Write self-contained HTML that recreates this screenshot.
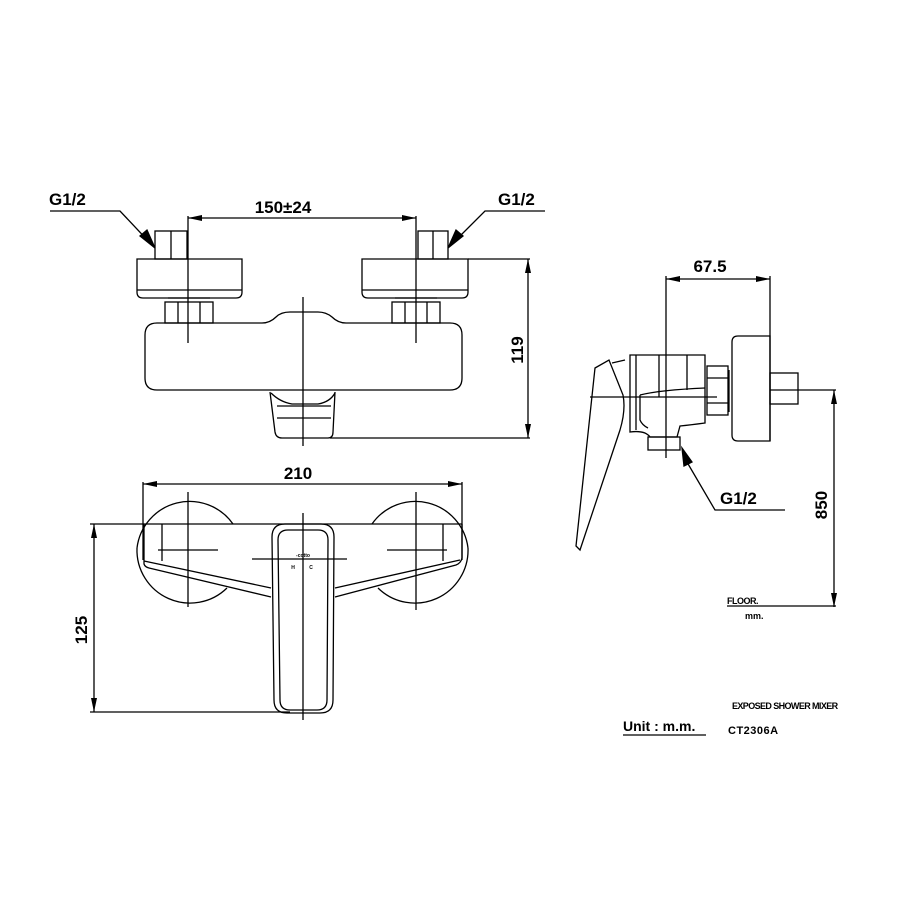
<!DOCTYPE html>
<html><head><meta charset="utf-8"><style>
html,body{margin:0;padding:0;background:#fff;}
svg{display:block;}
text{font-family:"Liberation Sans",sans-serif;font-weight:bold;fill:#000;}
</style></head><body>
<svg width="900" height="900" viewBox="0 0 900 900" xmlns="http://www.w3.org/2000/svg">
<defs>
<marker id="a" viewBox="0 0 10 10" refX="10" refY="5" markerWidth="14" markerHeight="6" orient="auto-start-reverse" markerUnits="userSpaceOnUse" preserveAspectRatio="none"><path d="M0,0 L10,5 L0,10 z" fill="#000"/></marker>
</defs>
<g fill="none" stroke="#000" stroke-width="1.3">
<!-- TOP VIEW -->
<text x="49" y="205" font-size="17" stroke="none">G1/2</text>
<polyline points="50,211 120,211 152,245"/>
<path d="M155,248 L140,236 L147,230 z" fill="#000"/>
<text x="498" y="205" font-size="17" stroke="none">G1/2</text>
<polyline points="545,211 485,211 451,245"/>
<path d="M448,248 L456,230 L463,236 z" fill="#000"/>
<text x="283" y="213" font-size="17" text-anchor="middle" stroke="none">150±24</text>
<line x1="188" y1="218" x2="416" y2="218" marker-start="url(#a)" marker-end="url(#a)"/>
<line x1="188" y1="216" x2="188" y2="343"/>
<line x1="416" y1="216" x2="416" y2="343"/>
<rect x="155" y="231" width="32" height="28"/>
<line x1="171" y1="231" x2="171" y2="259"/>
<rect x="418" y="231" width="30" height="28"/>
<line x1="433" y1="231" x2="433" y2="259"/>
<path d="M137,259 H242 V292 Q242,298 236,298 H143 Q137,298 137,292 Z"/>
<line x1="137" y1="290" x2="242" y2="290"/>
<path d="M362,259 H468 V292 Q468,298 462,298 H368 Q362,298 362,292 Z"/>
<line x1="362" y1="290" x2="468" y2="290"/>
<rect x="165" y="302" width="48" height="21"/>
<line x1="178" y1="302" x2="178" y2="323"/><line x1="200" y1="302" x2="200" y2="323"/>
<line x1="168" y1="298" x2="210" y2="298"/>
<rect x="392" y="302" width="48" height="21"/>
<line x1="405" y1="302" x2="405" y2="323"/><line x1="427" y1="302" x2="427" y2="323"/>
<line x1="395" y1="298" x2="437" y2="298"/>
<path d="M157,323 H262 Q270,323 276,317 Q281,312 290,312 H318 Q326,312 332,317 Q338,323 346,323 H450 Q462,323 462,335 V378 Q462,390 450,390 H157 Q145,390 145,378 V335 Q145,323 157,323 Z"/>
<line x1="303" y1="297" x2="303" y2="446"/>
<path d="M270,392 L275,432 Q276,438 282,438 H328 Q333,438 333,432 L335,392"/>
<path d="M271,393 Q280,402 292,404 H318 Q330,402 335,393"/>
<line x1="277" y1="406" x2="331" y2="406"/>
<line x1="277" y1="418" x2="331" y2="418"/>
<line x1="468" y1="259" x2="530" y2="259"/>
<line x1="330" y1="438" x2="530" y2="438"/>
<line x1="528" y1="259" x2="528" y2="438" marker-start="url(#a)" marker-end="url(#a)"/>
<text transform="translate(523,350) rotate(-90)" font-size="17" text-anchor="middle" stroke="none">119</text>

<!-- FRONT VIEW -->
<text x="298" y="479" font-size="17" text-anchor="middle" stroke="none">210</text>
<line x1="143" y1="484" x2="462" y2="484" marker-start="url(#a)" marker-end="url(#a)"/>
<line x1="143" y1="482" x2="143" y2="560"/>
<line x1="462" y1="482" x2="462" y2="560"/>
<path d="M233,524 A53,53 0 0 0 137,548"/>
<path d="M137,548 A53,53 0 0 0 227,588"/>
<path d="M372,524 A53,53 0 0 1 468,548"/>
<path d="M468,548 A53,53 0 0 1 378,588"/>
<line x1="90" y1="524" x2="462" y2="524"/>
<line x1="188" y1="492" x2="188" y2="607"/>
<line x1="416" y1="492" x2="416" y2="610"/>
<line x1="158" y1="550" x2="218" y2="550"/>
<line x1="387" y1="550" x2="447" y2="550"/>
<line x1="252" y1="559" x2="347" y2="559"/>
<line x1="162" y1="524" x2="162" y2="561"/>
<line x1="443" y1="524" x2="443" y2="561"/>
<path d="M144,524 V564 Q145,567 149,568 L271,597"/>
<line x1="144" y1="561" x2="271" y2="588"/>
<path d="M462,524 V558 Q461,563 456,565 L335,597"/>
<line x1="460" y1="560" x2="335" y2="588"/>
<path d="M285,524 H321 Q334,524 334,537 L333,700 Q333,713 320,713 H287 Q274,713 274,700 L272,537 Q272,524 285,524 Z"/>
<path d="M288,530 H318 Q328,530 328,540 L327,700 Q327,710 317,710 H290 Q280,710 280,700 L278,540 Q278,530 288,530 Z"/>
<line x1="303" y1="513" x2="303" y2="720"/>
<line x1="90" y1="712" x2="290" y2="712"/>
<line x1="94" y1="524" x2="94" y2="712" marker-start="url(#a)" marker-end="url(#a)"/>
<text transform="translate(87,630) rotate(-90)" font-size="17" text-anchor="middle" stroke="none">125</text>
<text x="303" y="557" font-size="5" text-anchor="middle" stroke="none">-cotto</text>
<text x="293" y="569" font-size="5" text-anchor="middle" stroke="none">H</text>
<text x="311" y="569" font-size="5" text-anchor="middle" stroke="none">C</text>

<!-- SIDE VIEW -->
<text x="710" y="272" font-size="17" text-anchor="middle" stroke="none">67.5</text>
<line x1="666" y1="279" x2="770" y2="279" marker-start="url(#a)" marker-end="url(#a)"/>
<line x1="666" y1="276" x2="666" y2="458"/>
<line x1="770" y1="276" x2="770" y2="441"/>
<path d="M738,336 H770 V441 H738 Q732,441 732,435 V342 Q732,336 738,336 Z"/>
<line x1="729" y1="370" x2="729" y2="412"/>
<rect x="707" y="366" width="21" height="49"/>
<line x1="707" y1="378" x2="728" y2="378"/><line x1="707" y1="403" x2="728" y2="403"/>
<rect x="770" y="373" width="28" height="31"/>
<path d="M630,355 H705 V423 Q690,425 680,426 L677,437 H650 Q645,430 630,432 Z"/>
<line x1="636" y1="355" x2="636" y2="430"/>
<line x1="659" y1="355" x2="659" y2="397"/>
<line x1="687" y1="355" x2="687" y2="390"/>
<path d="M640,395 Q660,390 705,388"/>
<path d="M640,395 V420 Q642,425 648,428"/>
<rect x="648" y="437" width="32" height="13"/>
<line x1="590" y1="397" x2="717" y2="397"/>
<path d="M595,368 L609,360 L623,395 Q626,410 620,430 L580,550 L576,546 Z"/>
<path d="M612,363 L625,360"/>
<polyline points="785,510 715,510 684,457"/>
<path d="M682,448 L692,462 L684,466 z" fill="#000"/>
<text x="720" y="504" font-size="17" stroke="none">G1/2</text>
<line x1="834" y1="390" x2="834" y2="607" marker-start="url(#a)" marker-end="url(#a)"/>
<line x1="770" y1="390" x2="836" y2="390"/>
<text transform="translate(827,505) rotate(-90)" font-size="17" text-anchor="middle" stroke="none">850</text>
<line x1="727" y1="606" x2="836" y2="606"/>
<text x="727" y="604" font-size="9" stroke="none" letter-spacing="-0.5">FLOOR.</text>
<text x="745" y="619" font-size="9" stroke="none">mm.</text>

<!-- TITLE -->
<text x="732" y="709" font-size="9" stroke="none" letter-spacing="-0.6">EXPOSED SHOWER MIXER</text>
<text x="623" y="731" font-size="14" stroke="none">Unit : m.m.</text>
<line x1="623" y1="735" x2="706" y2="735"/>
<text x="728" y="734" font-size="11" stroke="none" letter-spacing="0.5">CT2306A</text>
</g>
</svg>
</body></html>
